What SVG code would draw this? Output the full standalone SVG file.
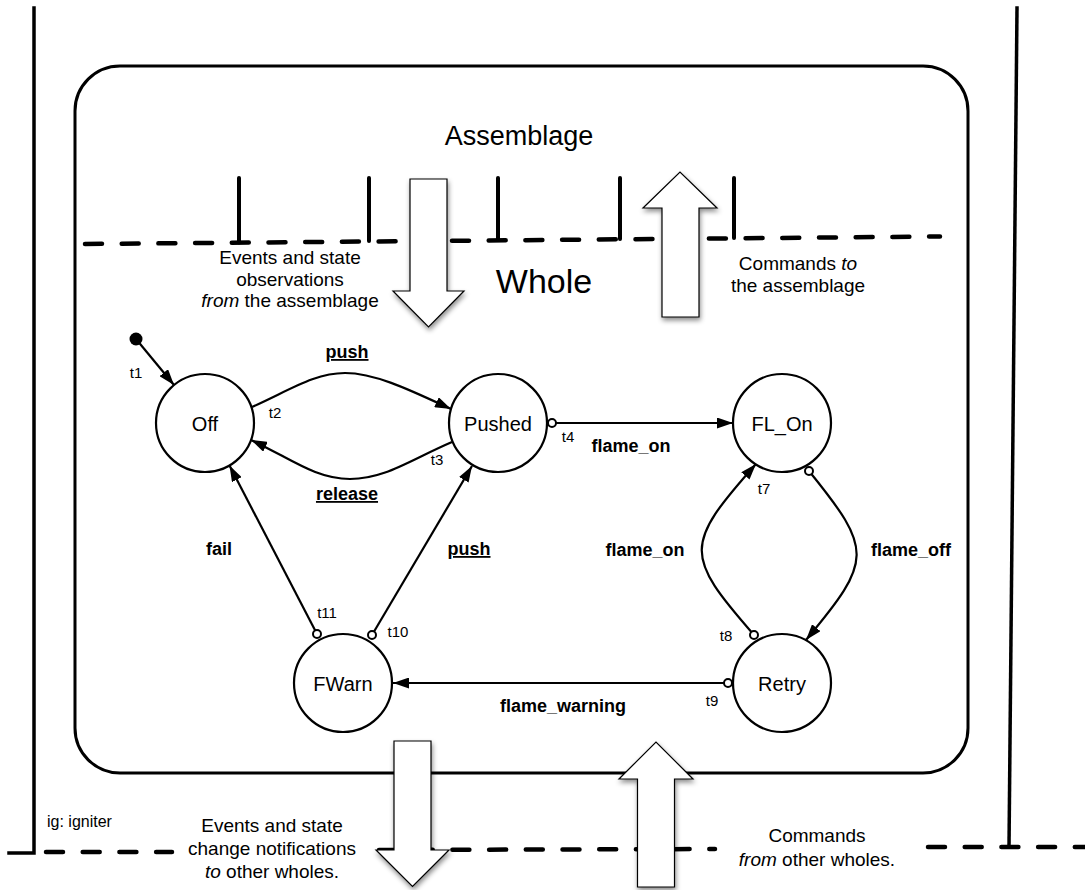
<svg xmlns="http://www.w3.org/2000/svg" width="1085" height="890" viewBox="0 0 1085 890">
  <style>
    text { font-family: "Liberation Sans", Arial, Helvetica, sans-serif; fill: #000; }
    .big { font-size: 27px; }
    .whole { font-size: 34px; }
    .cap { font-size: 19px; text-anchor: middle; }
    .state { font-size: 20px; text-anchor: middle; }
    .ev { font-size: 18px; font-weight: bold; text-anchor: middle; }
    .ul { text-decoration: underline; }
    .tid { font-size: 15px; text-anchor: middle; }
    .frame { fill: none; stroke: #000; stroke-width: 3.5; stroke-linecap: square; }
    .dash { fill: none; stroke: #000; stroke-width: 4.5; stroke-linecap: round; stroke-dasharray: 17 19.7; }
    .tick { stroke: #000; stroke-width: 4; stroke-linecap: round; }
    .node { fill: #fff; stroke: #000; stroke-width: 2.2; }
    .edge { fill: none; stroke: #000; stroke-width: 2.2; }
    .block { fill: #fff; stroke: #000; stroke-width: 1.2; stroke-linejoin: miter; filter: url(#shadow); }
  </style>
  <defs>
    <marker id="head" viewBox="0 0 16 11" markerWidth="16" markerHeight="11" refX="16" refY="5.5" orient="auto" markerUnits="userSpaceOnUse">
      <path d="M0,0 L16,5.5 L0,11 z" fill="#000"/>
    </marker>
    <marker id="src" viewBox="0 0 12 12" markerWidth="12" markerHeight="12" refX="6" refY="6" markerUnits="userSpaceOnUse">
      <circle cx="6" cy="6" r="4" fill="#fff" stroke="#000" stroke-width="2"/>
    </marker>
    <filter id="shadow" x="-40%" y="-20%" width="180%" height="140%">
      <feDropShadow dx="1" dy="3" stdDeviation="2.5" flood-color="#000" flood-opacity="0.45"/>
    </filter>
  </defs>

  <!-- outer boundaries of the igniter -->
  <g id="frame">
    <path class="frame" d="M9,853 H34 V8"/>
    <path class="frame" d="M1017,8 L1009,847"/>
    <rect x="75" y="66" width="893" height="707" rx="45" ry="45" fill="none" stroke="#000" stroke-width="3"/>
  </g>

  <!-- boundary between the whole and its assemblage, with ports -->
  <g id="assemblage-boundary">
    <line class="dash" x1="85" y1="244" x2="940" y2="236.5"/>
    <line class="tick" x1="239" y1="178" x2="239" y2="242.5"/>
    <line class="tick" x1="369" y1="178" x2="369" y2="241"/>
    <line class="tick" x1="498" y1="178" x2="498" y2="240"/>
    <line class="tick" x1="620" y1="178" x2="620" y2="239"/>
    <line class="tick" x1="734" y1="178" x2="734" y2="238"/>
  </g>

  <!-- boundary to the other wholes -->
  <g id="wholes-boundary">
    <line class="dash" x1="46" y1="852" x2="172" y2="852"/>
    <line class="dash" x1="379" y1="850" x2="715" y2="849"/>
    <line class="dash" x1="928" y1="847" x2="1090" y2="847"/>
  </g>

  <g id="titles">
    <text class="big" x="519" y="145" text-anchor="middle">Assemblage</text>
    <text class="whole" x="544" y="293" text-anchor="middle">Whole</text>
    <text x="47" y="827" font-size="16">ig: igniter</text>
  </g>

  <g id="captions">
    <text class="cap" x="290" y="264">Events and state</text>
    <text class="cap" x="290" y="285.5">observations</text>
    <text class="cap" x="290" y="307"><tspan font-style="italic">from</tspan> the assemblage</text>
    <text class="cap" x="798" y="270">Commands <tspan font-style="italic">to</tspan></text>
    <text class="cap" x="798" y="292">the assemblage</text>
    <text class="cap" x="272" y="832">Events and state</text>
    <text class="cap" x="272" y="855">change notifications</text>
    <text class="cap" x="272" y="878"><tspan font-style="italic">to</tspan> other wholes.</text>
    <text class="cap" x="817" y="842">Commands</text>
    <text class="cap" x="817" y="866"><tspan font-style="italic">from</tspan> other wholes.</text>
  </g>

  <!-- state machine transitions -->
  <g id="connectors">
    <circle cx="136" cy="339" r="6.5" fill="#000"/>
    <path class="edge" d="M136,339 L174,385" marker-end="url(#head)"/>
    <path class="edge" d="M252,407 C290,390 315,373 345,373 S410,390 451,409" marker-end="url(#head)"/>
    <path class="edge" d="M452,442 C410,460 385,479 350,479 S290,458 251,440" marker-end="url(#head)"/>
    <path class="edge" d="M552,423 L733,423" marker-start="url(#src)" marker-end="url(#head)"/>
    <path class="edge" d="M754,635 C684,555 684,545 756,464" marker-start="url(#src)" marker-end="url(#head)"/>
    <path class="edge" d="M809,471 C873,550 873,560 806,640" marker-start="url(#src)" marker-end="url(#head)"/>
    <path class="edge" d="M728,683 L393,683" marker-start="url(#src)" marker-end="url(#head)"/>
    <path class="edge" d="M372,635 L472,466" marker-start="url(#src)" marker-end="url(#head)"/>
    <path class="edge" d="M317,634 L229.5,465.5" marker-start="url(#src)" marker-end="url(#head)"/>
  </g>

  <g id="edge-labels">
    <text class="ev ul" x="347" y="358">push</text>
    <text class="ev ul" x="347" y="500">release</text>
    <text class="ev" x="631" y="452">flame_on</text>
    <text class="ev" x="645" y="556">flame_on</text>
    <text class="ev" x="911" y="556">flame_off</text>
    <text class="ev" x="563" y="712">flame_warning</text>
    <text class="ev ul" x="469" y="555">push</text>
    <text class="ev" x="219" y="555">fail</text>
    <text class="tid" x="136" y="378">t1</text>
    <text class="tid" x="275" y="418">t2</text>
    <text class="tid" x="437" y="465">t3</text>
    <text class="tid" x="568" y="442">t4</text>
    <text class="tid" x="764" y="494">t7</text>
    <text class="tid" x="726" y="641">t8</text>
    <text class="tid" x="712" y="706">t9</text>
    <text class="tid" x="398" y="637">t10</text>
    <text class="tid" x="327" y="618">t11</text>
  </g>

  <!-- states -->
  <g id="Off"><circle class="node" cx="205" cy="423" r="49"/><text class="state" x="205" y="431">Off</text></g>
  <g id="Pushed"><circle class="node" cx="498" cy="423" r="49"/><text class="state" x="498" y="431">Pushed</text></g>
  <g id="FL_On"><circle class="node" cx="782" cy="423" r="49"/><text class="state" x="782" y="431">FL_On</text></g>
  <g id="FWarn"><circle class="node" cx="343" cy="683" r="49"/><text class="state" x="343" y="691">FWarn</text></g>
  <g id="Retry"><circle class="node" cx="782" cy="683" r="49"/><text class="state" x="782" y="691">Retry</text></g>

  <!-- information flows across the boundaries -->
  <g id="flows">
    <polygon class="block" points="410,179 447,179 447,291 464,291 428.5,327 393,291 410,291"/>
    <polygon class="block" points="662,317 699,317 699,208 717,208 680,172 643,208 662,208"/>
    <polygon class="block" points="394,741 431,741 431,850 449,850 412.5,886.5 376,850 394,850"/>
    <polygon class="block" points="637.5,887 674.5,887 674.5,779 693,779 656,742 619,779 637.5,779"/>
  </g>
</svg>
